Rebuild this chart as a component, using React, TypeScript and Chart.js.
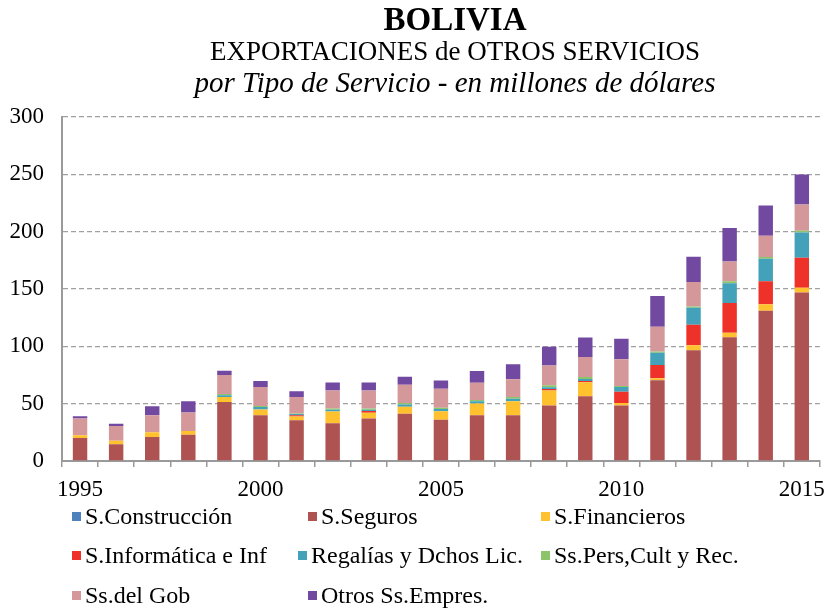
import React, { useEffect, useRef } from "react";
import { Chart, registerables } from "chart.js";

Chart.register(...registerables);

const years = ["1995","1996","1997","1998","1999","2000","2001","2002","2003","2004","2005","2006","2007","2008","2009","2010","2011","2012","2013","2014","2015"];
const tickYears = ["1995","2000","2005","2010","2015"];

const construccion = [0,0,0,0,0,0,0,0,0,0,0,0,0,0,0,0,0,0,0,0,0];
const seguros = [20,14.5,21,23,51.5,40,35.5,33,37,41.3,36,40,40,48.5,56.4,48.5,70.4,96.5,108,131,147];
const financieros = [2.5,3.2,4,3.2,4.4,5,3.2,10.2,5,6,7.3,10.2,12.2,13,12.2,2,1.7,4.4,3.8,5.8,4];
const informatica = [0,0,0,0,0,0,1.2,0,1.5,0,0,0,0,1.2,1.2,10,11.6,18,26,20,26.2];
const regalias = [0,0,0,0,1.5,2,1,1.5,1.2,2,2,2,2,1.7,1.7,4,10.8,14.8,17.2,19.5,22];
const personales = [0,0,0,0,1,1,0.6,1,1,1.2,1.2,1,1.7,1.7,1.7,1,1,1,1.7,1.5,1.7];
const gobierno = [14.5,12.8,14.8,16,16.6,16.6,14.3,15.7,15.7,16,16.6,15.1,15.4,17.2,17.4,23.2,21.5,21.5,17.2,18.6,22.7];
const otros = [2,2,8,10,3.8,5.2,5,7,7,7,7,10.2,13,16.3,17.2,18,27,22,29.3,26.5,26.2];

const seriesLabels = ["S.Construcción","S.Seguros","S.Financieros","S.Informática e Inf","Regalías y Dchos Lic.","Ss.Pers,Cult y Rec.","Ss.del Gob","Otros Ss.Empres."];
const seriesData = [construccion, seguros, financieros, informatica, regalias, personales, gobierno, otros];
const seriesColors = ["#4F81BD","#AE5352","#FFC12E","#EE3129","#43A2BA","#8DC46A","#D4979A","#7149A0"];

const titleLines = ["BOLIVIA","EXPORTACIONES de OTROS SERVICIOS","por Tipo de Servicio - en millones de dólares"];

const SERIF = '"Liberation Serif", "Times New Roman", serif';

const titlePlugin = {
  id: "customTitle",
  afterDraw(chart: any) {
    const ctx = chart.ctx;
    ctx.save();
    ctx.fillStyle = "#000";
    ctx.textAlign = "center";
    ctx.textBaseline = "alphabetic";
    const cx = 455;
    ctx.font = `bold 33px ${SERIF}`;
    ctx.fillText(titleLines[0], cx, 30);
    ctx.font = `27px ${SERIF}`;
    ctx.fillText(titleLines[1], cx, 60);
    ctx.font = `italic 29px ${SERIF}`;
    ctx.fillText(titleLines[2], cx, 92);
    ctx.restore();
  },
};

export default function App() {
  const ref = useRef<HTMLCanvasElement | null>(null);

  useEffect(() => {
    document.body.style.margin = "0";
    if (!ref.current) return;
    const chart = new Chart(ref.current, {
      type: "bar",
      data: {
        labels: years,
        datasets: seriesLabels.map((label, i) => ({
          label,
          data: seriesData[i],
          backgroundColor: seriesColors[i],
          borderWidth: 0,
          barPercentage: 0.4,
          categoryPercentage: 1,
        })),
      },
      options: {
        animation: false,
        responsive: false,
        maintainAspectRatio: false,
        layout: { padding: { left: 0, right: 8, top: 117, bottom: 109 } },
        plugins: {
          legend: { display: false },
          title: { display: false },
          tooltip: { enabled: false },
        },
        scales: {
          x: {
            stacked: true,
            offset: true,
            grid: {
              display: true,
              drawOnChartArea: false,
              drawTicks: true,
              tickLength: 6,
              color: "#9a9a9a",
              lineWidth: 1.5,
            },
            border: { display: true, color: "#9a9a9a", width: 2 },
            ticks: {
              autoSkip: false,
              maxRotation: 0,
              minRotation: 0,
              padding: 9,
              color: "#000",
              font: { family: SERIF, size: 23 },
              callback: (_v: any, idx: number) => (tickYears.includes(years[idx]) ? years[idx] : ""),
            },
            afterFit: (scale: any) => {
              scale.height = 40;
            },
          },
          y: {
            stacked: true,
            min: 0,
            max: 300,
            ticks: {
              stepSize: 50,
              padding: 18,
              color: "#000",
              font: { family: SERIF, size: 23 },
            },
            grid: {
              drawTicks: false,
              color: "#a0a0a0",
              lineWidth: 1.3,
            },
            border: { display: true, color: "#9a9a9a", width: 2, dash: [5, 3] },
            afterFit: (scale: any) => {
              scale.width = 62;
            },
          },
        },
      },
      plugins: [titlePlugin],
    });
    return () => chart.destroy();
  }, []);

  const legendPos = [
    [72, 516], [308, 516], [541, 516],
    [72, 555], [298, 555], [541, 555],
    [72, 595], [308, 595],
  ];

  return (
    <div style={{ position: "relative", width: 834, height: 610, background: "#fff", overflow: "hidden" }}>
      <canvas ref={ref} width={834} height={610} style={{ display: "block" }} />
      {seriesLabels.map((label, i) => (
        <div
          key={label}
          style={{
            position: "absolute",
            left: legendPos[i][0],
            top: legendPos[i][1] - 15,
            height: 30,
            display: "flex",
            alignItems: "center",
            fontFamily: SERIF,
            fontSize: 24,
            color: "#000",
            whiteSpace: "nowrap",
          }}
        >
          <span style={{ display: "inline-block", width: 9, height: 9, background: seriesColors[i], marginRight: 4 }} />
          <span>{label}</span>
        </div>
      ))}
    </div>
  );
}
